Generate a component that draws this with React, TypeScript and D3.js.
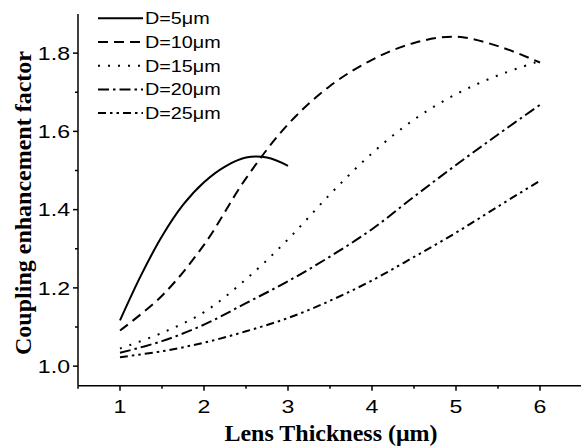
import * as d3 from 'd3';

// lens thickness (µm) and coupling enhancement
const X_THIN = [1, 1.25, 1.5, 1.75, 2, 2.25, 2.5, 2.75, 3];
const D5 = [1.117, 1.232, 1.332, 1.412, 1.47, 1.51, 1.533, 1.533, 1.512];

const X_FULL = [1, 1.5, 2, 2.5, 3, 3.5, 4, 4.5, 5, 5.5, 6];
const D10 = [1.091, 1.18, 1.31, 1.48, 1.618, 1.716, 1.783, 1.826, 1.842, 1.818, 1.776];
const D15 = [1.045, 1.085, 1.138, 1.222, 1.324, 1.439, 1.544, 1.63, 1.695, 1.743, 1.78];
const D20 = [1.034, 1.064, 1.106, 1.161, 1.217, 1.28, 1.35, 1.433, 1.514, 1.592, 1.668];
const D25 = [1.023, 1.038, 1.06, 1.089, 1.123, 1.167, 1.219, 1.279, 1.341, 1.408, 1.474];

const SERIES = [
  { label: 'D=5\u03bcm', xs: X_THIN, ys: D5, dash: null },
  { label: 'D=10\u03bcm', xs: X_FULL, ys: D10, dash: '10,6' },
  { label: 'D=15\u03bcm', xs: X_FULL, ys: D15, dash: '2,8' },
  { label: 'D=20\u03bcm', xs: X_FULL, ys: D20, dash: '11,4,2.5,4' },
  { label: 'D=25\u03bcm', xs: X_FULL, ys: D25, dash: '8,4,2.5,4,2.5,4' },
];

const X_TICKS = [1, 2, 3, 4, 5, 6];
const X_MINOR = [0.5, 1.5, 2.5, 3.5, 4.5, 5.5, 6.5];
const Y_TICKS = [1.0, 1.2, 1.4, 1.6, 1.8];
const Y_MINOR = [1.1, 1.3, 1.5, 1.7];

const W = 581;
const H = 448;
const sans = '"Liberation Sans", Arial, sans-serif';
const serif = '"Liberation Serif", "Times New Roman", serif';

export default function App() {
  const x = d3.scaleLinear().domain([0.5, 6.5]).range([78, 582]);
  const y = d3.scaleLinear().domain([0.95, 1.9]).range([385.7, 14]);
  const x0 = x.range()[0];
  const y0 = y.range()[0];

  const line = d3.line<[number, number]>()
    .x(d => x(d[0]))
    .y(d => y(d[1]))
    .curve(d3.curveCatmullRom.alpha(0.5));

  return (
    <svg width={W} height={H} style={{ position: 'absolute', left: 0, top: 0, background: '#fff' }}>
      {/* curves */}
      <g fill="none" stroke="#000" strokeWidth={2}>
        {SERIES.map(s => (
          <path key={s.label}
            d={line(s.xs.map((v, i) => [v, s.ys[i]] as [number, number])) || ''}
            strokeDasharray={s.dash || undefined} />
        ))}
      </g>

      {/* y axis */}
      <g stroke="#000" strokeWidth={1.5}>
        <line x1={x0} x2={x0} y1={y.range()[1]} y2={y0} />
        {Y_TICKS.map(t => <line key={t} x1={x0 - 5} x2={x0} y1={y(t)} y2={y(t)} />)}
        {Y_MINOR.map(t => <line key={t} x1={x0 - 3} x2={x0} y1={y(t)} y2={y(t)} />)}
      </g>
      {Y_TICKS.map(t => (
        <text key={t} transform={`translate(70,${y(t)}) scale(1.25,1)`}
          textAnchor="end" dy="0.36em" fontFamily={sans} fontSize={18.5}>
          {d3.format('.1f')(t)}
        </text>
      ))}

      {/* x axis */}
      <g stroke="#000" strokeWidth={1.5}>
        <line x1={x0} x2={W + 2} y1={y0} y2={y0} />
        {X_TICKS.map(t => <line key={t} x1={x(t)} x2={x(t)} y1={y0} y2={y0 + 5} />)}
        {X_MINOR.map(t => <line key={t} x1={x(t)} x2={x(t)} y1={y0} y2={y0 + 3} />)}
      </g>
      {X_TICKS.map(t => (
        <text key={t} transform={`translate(${x(t)},413) scale(1.25,1)`}
          textAnchor="middle" fontFamily={sans} fontSize={18.5}>
          {t}
        </text>
      ))}

      {/* titles */}
      <text x={331} y={441} textAnchor="middle" fontFamily={serif} fontWeight="bold" fontSize={24}>
        Lens Thickness ({'\u03bc'}m)
      </text>
      <text transform="translate(31,203) rotate(-90)" textAnchor="middle"
        fontFamily={serif} fontWeight="bold" fontSize={24}>
        Coupling enhancement factor
      </text>

      {/* legend */}
      {SERIES.map((s, i) => {
        const ly = 18.3 + i * 23.7;
        return (
          <g key={s.label}>
            <line x1={98} x2={143} y1={ly} y2={ly} stroke="#000" strokeWidth={2}
              strokeDasharray={s.dash || undefined} />
            <text transform={`translate(145,${ly}) scale(1.2,1)`} dy="0.36em"
              fontFamily={sans} fontSize={16.5}>
              {s.label}
            </text>
          </g>
        );
      })}
    </svg>
  );
}
